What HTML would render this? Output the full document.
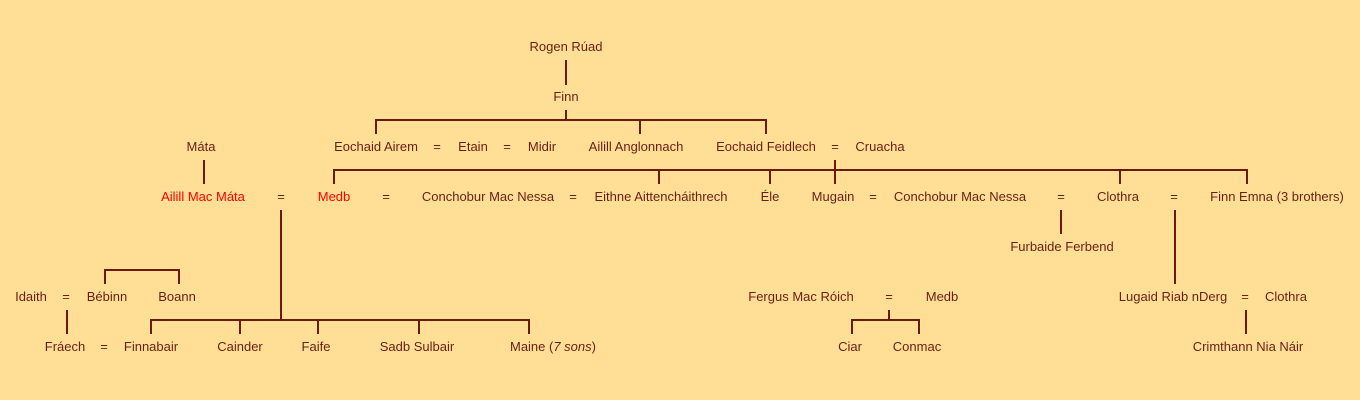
<!DOCTYPE html>
<html>
<head>
<meta charset="utf-8">
<style>
  html, body { margin: 0; padding: 0; background: #FFDF96; }
  body { width: 1360px; height: 400px; overflow: hidden; }
  svg { display: block; }
  text { font-family: "Liberation Sans", Arial, sans-serif; font-size: 13px; fill: #6B1E14; text-anchor: middle; }
  text.r { fill: #FF0000; }
  line { stroke: #6B1A10; stroke-width: 2; shape-rendering: crispEdges; }
</style>
</head>
<body>
<svg width="1360" height="400" viewBox="0 0 1360 400" xmlns="http://www.w3.org/2000/svg">
  <rect width="1360" height="400" fill="#FFDF96"/>

  <!-- lines -->
  <line x1="566" y1="60" x2="566" y2="85"/>
  <line x1="566" y1="110" x2="566" y2="120"/>
  <line x1="375" y1="120" x2="767" y2="120"/>
  <line x1="376" y1="120" x2="376" y2="134"/>
  <line x1="640" y1="120" x2="640" y2="134"/>
  <line x1="766" y1="120" x2="766" y2="134"/>

  <line x1="204" y1="160" x2="204" y2="184"/>
  <line x1="835" y1="160" x2="835" y2="184"/>
  <line x1="333" y1="170" x2="1248" y2="170"/>
  <line x1="334" y1="170" x2="334" y2="184"/>
  <line x1="659" y1="170" x2="659" y2="184"/>
  <line x1="770" y1="170" x2="770" y2="184"/>
  <line x1="1120" y1="170" x2="1120" y2="184"/>
  <line x1="1247" y1="170" x2="1247" y2="184"/>

  <line x1="281" y1="210" x2="281" y2="320"/>
  <line x1="150" y1="320" x2="530" y2="320"/>
  <line x1="151" y1="320" x2="151" y2="334"/>
  <line x1="240" y1="320" x2="240" y2="334"/>
  <line x1="318" y1="320" x2="318" y2="334"/>
  <line x1="419" y1="320" x2="419" y2="334"/>
  <line x1="529" y1="320" x2="529" y2="334"/>

  <line x1="1061" y1="210" x2="1061" y2="234"/>
  <line x1="1175" y1="210" x2="1175" y2="284"/>

  <line x1="104" y1="270" x2="180" y2="270"/>
  <line x1="105" y1="270" x2="105" y2="284"/>
  <line x1="179" y1="270" x2="179" y2="284"/>

  <line x1="67" y1="310" x2="67" y2="334"/>

  <line x1="889" y1="310" x2="889" y2="320"/>
  <line x1="851" y1="320" x2="920" y2="320"/>
  <line x1="852" y1="320" x2="852" y2="334"/>
  <line x1="919" y1="320" x2="919" y2="334"/>

  <line x1="1246" y1="310" x2="1246" y2="334"/>

  <!-- row 47 -->
  <text x="566" y="51">Rogen Rúad</text>
  <!-- row 97 -->
  <text x="566" y="101">Finn</text>
  <!-- row 147 -->
  <text x="201" y="151">Máta</text>
  <text x="376" y="151">Eochaid Airem</text>
  <text x="437" y="151">=</text>
  <text x="473" y="151">Etain</text>
  <text x="507" y="151">=</text>
  <text x="542" y="151">Midir</text>
  <text x="636" y="151">Ailill Anglonnach</text>
  <text x="766" y="151">Eochaid Feidlech</text>
  <text x="835" y="151">=</text>
  <text x="880" y="151">Cruacha</text>
  <!-- row 197 -->
  <text class="r" x="203" y="201">Ailill Mac Máta</text>
  <text x="281" y="201">=</text>
  <text class="r" x="334" y="201">Medb</text>
  <text x="386" y="201">=</text>
  <text x="488" y="201">Conchobur Mac Nessa</text>
  <text x="573" y="201">=</text>
  <text x="661" y="201">Eithne Aittencháithrech</text>
  <text x="770" y="201">Éle</text>
  <text x="833" y="201">Mugain</text>
  <text x="873" y="201">=</text>
  <text x="960" y="201">Conchobur Mac Nessa</text>
  <text x="1061" y="201">=</text>
  <text x="1118" y="201">Clothra</text>
  <text x="1174" y="201">=</text>
  <text x="1277" y="201">Finn Emna (3 brothers)</text>
  <!-- row 247 -->
  <text x="1062" y="251">Furbaide Ferbend</text>
  <!-- row 297 -->
  <text x="31" y="301">Idaith</text>
  <text x="66" y="301">=</text>
  <text x="107" y="301">Bébinn</text>
  <text x="177" y="301">Boann</text>
  <text x="801" y="301">Fergus Mac Róich</text>
  <text x="889" y="301">=</text>
  <text x="942" y="301">Medb</text>
  <text x="1173" y="301">Lugaid Riab nDerg</text>
  <text x="1245" y="301">=</text>
  <text x="1286" y="301">Clothra</text>
  <!-- row 347 -->
  <text x="65" y="351">Fráech</text>
  <text x="104" y="351">=</text>
  <text x="151" y="351">Finnabair</text>
  <text x="240" y="351">Cainder</text>
  <text x="316" y="351">Faife</text>
  <text x="417" y="351">Sadb Sulbair</text>
  <text x="553" y="351">Maine (<tspan font-style="italic">7 sons</tspan>)</text>
  <text x="850" y="351">Ciar</text>
  <text x="917" y="351">Conmac</text>
  <text x="1248" y="351">Crimthann Nia Náir</text>
</svg>
</body>
</html>
